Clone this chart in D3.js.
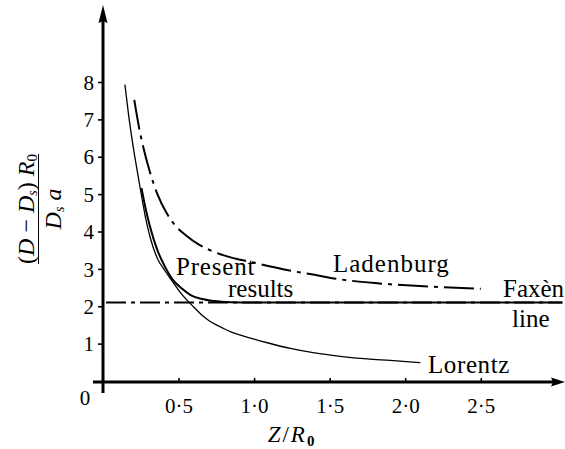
<!DOCTYPE html>
<html>
<head>
<meta charset="utf-8">
<script src="https://cdn.jsdelivr.net/npm/d3@7/dist/d3.min.js"></script>
<style>
#chart text { font-family: 'Liberation Serif', 'Tinos', 'Nimbus Roman', 'FreeSerif', serif !important; }
</style>
</head>
<body style="margin:0">
<svg id="chart" width="565" height="449"></svg>
<script>
// ---- data ----
const xTicks = [0.5, 1.0, 1.5, 2.0, 2.5];
const yTicks = [1, 2, 3, 4, 5, 6, 7, 8];

const lorentzZ = [0.145,0.17,0.194,0.221,0.249,0.28,0.315,0.36,0.41,0.46,0.515,0.60,0.65,0.70,0.75,0.80,0.85,0.91,1.0,1.1,1.24,1.40,1.57,1.75,1.90,2.10];
const lorentzV = [7.93,7.1,6.42,5.75,5.1,4.4,3.8,3.28,2.95,2.66,2.35,1.98,1.78,1.62,1.5,1.4,1.31,1.23,1.12,1.01,0.87,0.75,0.66,0.59,0.55,0.49];

const presentZ = [0.255,0.28,0.31,0.36,0.405,0.46,0.52,0.58,0.65,0.735,0.845,1.0,1.5,2.0,2.5,3.04];
const presentV = [5.16,4.65,4.15,3.5,3.1,2.72,2.48,2.3,2.2,2.14,2.11,2.1,2.1,2.1,2.1,2.1];

const ladenburgZ = [0.207,0.24,0.27,0.31,0.36,0.42,0.48,0.554,0.63,0.708,0.80,0.90,0.973,1.10,1.216,1.40,1.57,1.80,2.01,2.25,2.50];
const ladenburgV = [7.52,6.75,6.2,5.6,5.0,4.5,4.15,3.88,3.66,3.5,3.36,3.25,3.19,3.07,2.97,2.84,2.72,2.62,2.56,2.51,2.47];

const faxenZ = [0.02, 3.04];
const faxenV = [2.1, 2.1];

const labels = ["Present", "results", "Ladenburg", "Faxèn", "line", "Lorentz"];

// ---- layout ----
const FONT = "'Liberation Serif'";
const svg = d3.select("#chart");
const x = d3.scaleLinear().domain([0, 3]).range([103, 556.3]);
const y = d3.scaleLinear().domain([0, 8]).range([381, 82]);

const line = d3.line().x(d => x(d[0])).y(d => y(d[1])).curve(d3.curveMonotoneX);
const zip = (a, b) => a.map((v, i) => [v, b[i]]);
const useSerif = sel => sel.attr("font-family", "Liberation Serif").style("font-family", FONT, "important");

// y axis ticks + labels
const yAxis = d3.axisLeft(y).tickValues(yTicks).tickSize(5).tickPadding(4).tickFormat(d3.format("d"));
const gy = svg.append("g").attr("transform", `translate(${x(0)},0)`).call(yAxis);
gy.attr("font-family", "Liberation Serif");
gy.select(".domain").remove();
gy.selectAll(".tick line").attr("stroke", "#000").attr("stroke-width", 1.6);
gy.selectAll(".tick text").call(useSerif).style("font-size", "21px").attr("fill", "#000").attr("dy", "0.34em");

// x axis ticks + labels
const xAxis = d3.axisBottom(x).tickValues(xTicks).tickSizeInner(-4).tickSizeOuter(0).tickPadding(16)
  .tickFormat(d => d3.format(".1f")(d).replace(".", "\u00B7"));
const gx = svg.append("g").attr("transform", `translate(0,382)`).call(xAxis);
gx.attr("font-family", "Liberation Serif");
gx.select(".domain").remove();
gx.selectAll(".tick line").attr("stroke", "#000").attr("stroke-width", 1.6);
gx.selectAll(".tick text").call(useSerif).style("font-size", "21px").attr("fill", "#000");

// axis lines with arrows
svg.append("line").attr("x1", 93).attr("x2", 554).attr("y1", 382).attr("y2", 382).attr("stroke", "#000").attr("stroke-width", 3);
svg.append("path").attr("d", "M565,382 L551,377.5 L553,382 L551,386.5 Z").attr("fill", "#000");
svg.append("line").attr("x1", x(0)).attr("x2", x(0)).attr("y1", 393).attr("y2", 20).attr("stroke", "#000").attr("stroke-width", 3);
svg.append("path").attr("d", `M${x(0)},5 L${x(0)-4.5},23 L${x(0)},21 L${x(0)+4.5},23 Z`).attr("fill", "#000");

// origin label
svg.append("text").attr("x", 85).attr("y", 405).attr("text-anchor", "middle")
  .call(useSerif).style("font-size", "21px").text("0");

// curves
svg.append("path").datum(zip(faxenZ, faxenV)).attr("d", line).attr("fill", "none")
  .attr("stroke", "#000").attr("stroke-width", 1.8).attr("stroke-dasharray", "20,5,4,5");
svg.append("path").datum(zip(lorentzZ, lorentzV)).attr("d", line).attr("fill", "none")
  .attr("stroke", "#000").attr("stroke-width", 1.3);
svg.append("path").datum(zip(presentZ, presentV)).attr("d", line).attr("fill", "none")
  .attr("stroke", "#000").attr("stroke-width", 2);
svg.append("path").datum(zip(ladenburgZ, ladenburgV)).attr("d", line).attr("fill", "none")
  .attr("stroke", "#000").attr("stroke-width", 2).attr("stroke-dasharray", "30,6,4,6");

// curve labels
const lab = (t, px, py, ls) => svg.append("text").attr("x", px).attr("y", py)
  .call(useSerif).style("font-size", "25px").style("letter-spacing", ls + "px").text(t);
lab(labels[0], 176, 275, 0.8);
lab(labels[1], 228, 297, 0);
lab(labels[2], 333, 272, 1);
lab(labels[3], 503, 297, 0);
lab(labels[4], 512, 327, 0);
lab(labels[5], 428, 373, 0.6);

// x axis title Z/R0
const xt = svg.append("text").attr("x", 292).attr("y", 442).attr("text-anchor", "middle")
  .call(useSerif).style("font-size", "23px").style("letter-spacing", "2px");
xt.append("tspan").style("font-style", "italic").text("Z");
xt.append("tspan").text("/");
xt.append("tspan").style("font-style", "italic").text("R");
xt.append("tspan").attr("dy", 4).style("font-size", "15px").style("font-weight", "bold").text("0");

// y axis title: fraction (D − Ds) R0 / Ds a
const yc = 209;
const num = svg.append("text").attr("transform", `translate(34,${yc}) rotate(-90)`).attr("text-anchor", "middle")
  .call(useSerif).style("font-size", "24px");
num.append("tspan").text("(");
num.append("tspan").style("font-style", "italic").text("D");
num.append("tspan").text(" \u2212 ");
num.append("tspan").style("font-style", "italic").text("D");
num.append("tspan").attr("dy", 3).style("font-size", "14px").style("font-style", "italic").text("s");
num.append("tspan").attr("dy", -3).text(") ");
num.append("tspan").style("font-style", "italic").text("R");
num.append("tspan").attr("dy", 3).style("font-size", "15px").text("0");
svg.append("line").attr("x1", 38.5).attr("x2", 38.5).attr("y1", 154).attr("y2", 264).attr("stroke", "#000").attr("stroke-width", 1);
const den = svg.append("text").attr("transform", `translate(61,${yc}) rotate(-90)`).attr("text-anchor", "middle")
  .call(useSerif).style("font-size", "24px");
den.append("tspan").style("font-style", "italic").text("D");
den.append("tspan").attr("dy", 3).style("font-size", "14px").style("font-style", "italic").text("s");
den.append("tspan").attr("dy", -3).style("font-style", "italic").text(" a");
</script>
</body>
</html>
